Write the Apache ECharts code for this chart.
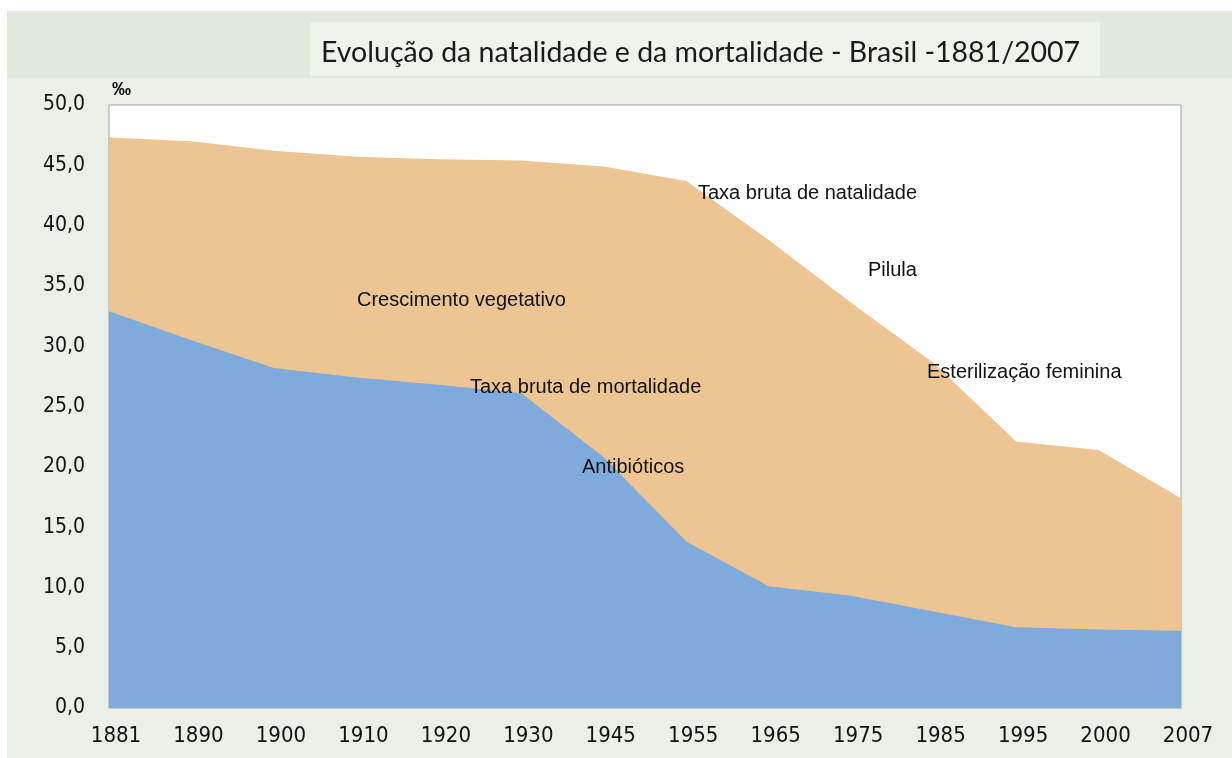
<!DOCTYPE html>
<html>
<head>
<meta charset="utf-8">
<title>Natalidade e mortalidade - Brasil</title>
<script src="https://cdn.jsdelivr.net/npm/echarts@6/dist/echarts.min.js"></script>
<style>
	html, body { margin: 0; padding: 0; background: #fff; }
	#main { width: 1232px; height: 758px; }
</style>
</head>
<body>
<div id="main"></div>
<script>
// anos (eixo x)
var years = ['1881', '1890', '1900', '1910', '1920', '1930', '1945', '1955', '1965', '1975', '1985', '1995', '2000', '2007'];
// taxa bruta de natalidade (por mil)
var natalidade = [47.3, 47.0, 46.2, 45.7, 45.5, 45.4, 44.9, 43.7, 38.8, 33.6, 28.6, 22.1, 21.4, 17.4];
// taxa bruta de mortalidade (por mil)
var mortalidade = [32.9, 30.5, 28.2, 27.4, 26.8, 26.1, 20.8, 13.8, 10.1, 9.3, 8.0, 6.7, 6.5, 6.4];
// anotacoes dentro do grafico
var notas = [
	{ text: 'Crescimento vegetativo', x: 357, y: 300 },
	{ text: 'Taxa bruta de natalidade', x: 698, y: 193 },
	{ text: 'Pilula', x: 868, y: 270 },
	{ text: 'Esterilização feminina', x: 927, y: 372 },
	{ text: 'Taxa bruta de mortalidade', x: 470, y: 387 },
	{ text: 'Antibióticos', x: 582, y: 467 }
];

var chart = echarts.init(document.getElementById('main'));

var graphics = [
	// fundo esverdeado
	{ type: 'rect', z: -10, shape: { x: 7, y: 11, width: 1225, height: 67 }, style: { fill: '#e1e9dc' } },
	{ type: 'rect', z: -10, shape: { x: 7, y: 78, width: 1225, height: 680 }, style: { fill: '#eaefe7' } },
	// caixa do titulo
	{ type: 'rect', z: -9, shape: { x: 310, y: 22, width: 790, height: 54 }, style: { fill: '#eef3ec' } }
];
notas.forEach(function(n) {
	graphics.push({
		type: 'text',
		z: 100,
		x: n.x,
		y: n.y,
		style: {
			text: n.text,
			fill: '#111',
			font: '20px "Liberation Sans", Arial, sans-serif',
			textVerticalAlign: 'middle'
		}
	});
});

var option = {
	backgroundColor: '#ffffff',
	animation: false,
	title: {
		text: 'Evolução da natalidade e da mortalidade - Brasil -1881/2007',
		left: 316,
		top: 33,
		textStyle: {
			fontFamily: 'Lato, "Open Sans", sans-serif',
			fontSize: 28.5,
			fontWeight: 'normal',
			color: '#1a1a1a'
		}
	},
	grid: {
		left: 109,
		right: 51,
		top: 105,
		bottom: 50,
		show: true,
		backgroundColor: '#ffffff',
		borderColor: '#9aa3a0',
		borderWidth: 1
	},
	xAxis: {
		type: 'category',
		boundaryGap: false,
		data: years,
		axisLine: { show: false },
		axisTick: { show: false },
		axisLabel: {
			margin: 17,
			padding: [0, 0, 0, 14],
			color: '#111',
			fontSize: 22,
			fontFamily: '"Liberation Sans Narrow", "DejaVu Sans Condensed", sans-serif'
		}
	},
	yAxis: {
		type: 'value',
		min: 0,
		max: 50,
		interval: 5,
		name: '‰',
		nameLocation: 'end',
		nameGap: 6,
		nameTextStyle: {
			align: 'left',
			padding: [0, 0, 0, 3],
			fontSize: 19,
			fontWeight: 'bold',
			color: '#000'
		},
		splitLine: { show: false },
		axisLine: { show: false },
		axisTick: { show: false },
		axisLabel: {
			margin: 24,
			color: '#111',
			fontSize: 21,
			fontFamily: '"Liberation Sans Narrow", "DejaVu Sans Condensed", sans-serif',
			formatter: function(v) {
				return v.toFixed(1).replace('.', ',');
			}
		}
	},
	series: [{
		name: 'Taxa bruta de natalidade',
		type: 'line',
		data: natalidade,
		symbol: 'none',
		lineStyle: { width: 0 },
		areaStyle: { color: '#ecc592', opacity: 1 }
	}, {
		name: 'Taxa bruta de mortalidade',
		type: 'line',
		data: mortalidade,
		symbol: 'none',
		lineStyle: { width: 0 },
		areaStyle: { color: '#7eaadc', opacity: 1 }
	}],
	graphic: graphics
};

chart.setOption(option);
</script>
</body>
</html>
